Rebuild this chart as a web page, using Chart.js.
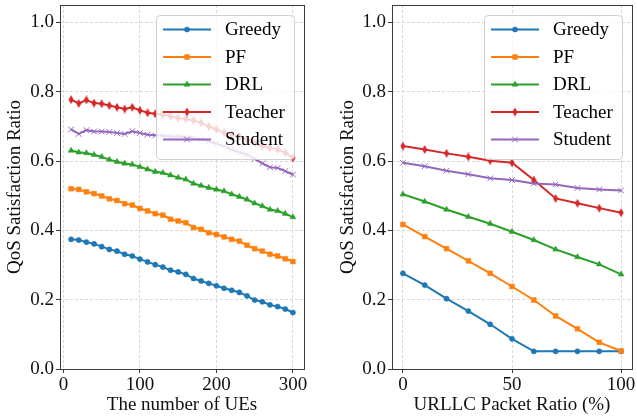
<!DOCTYPE html>
<html>
<head>
<meta charset="utf-8">
<script src="https://cdn.jsdelivr.net/npm/chart.js@4.4.0/dist/chart.umd.min.js"></script>
<style>
  html, body { margin: 0; padding: 0; background: #fff; }
  #wrap { position: relative; width: 637px; height: 419px; }
  canvas { position: absolute; top: 0; }
</style>
</head>
<body>
<div id="wrap">
  <canvas id="left" width="318" height="419" style="left:0"></canvas>
  <canvas id="right" width="319" height="419" style="left:318px"></canvas>
</div>
<script>
// series names
var methods = ['Greedy', 'PF', 'DRL', 'Teacher', 'Student'];

// left panel: number of UEs
var ueCounts = [10, 20, 30, 40, 50, 60, 70, 80, 90, 100, 110, 120, 130, 140, 150,
                160, 170, 180, 190, 200, 210, 220, 230, 240, 250, 260, 270, 280, 290, 300];
var ueGreedy = [0.374, 0.372, 0.366, 0.361, 0.353, 0.345, 0.340, 0.331, 0.326, 0.317,
                0.309, 0.301, 0.294, 0.285, 0.280, 0.273, 0.261, 0.254, 0.247, 0.240,
                0.233, 0.227, 0.221, 0.211, 0.199, 0.194, 0.185, 0.180, 0.173, 0.163];
var uePF = [0.520, 0.518, 0.511, 0.506, 0.499, 0.491, 0.486, 0.477, 0.473, 0.463,
            0.456, 0.448, 0.444, 0.432, 0.427, 0.422, 0.408, 0.403, 0.393, 0.388,
            0.381, 0.374, 0.369, 0.357, 0.347, 0.340, 0.331, 0.326, 0.318, 0.310];
var ueDRL = [0.630, 0.625, 0.623, 0.618, 0.612, 0.604, 0.598, 0.593, 0.590, 0.583,
             0.576, 0.569, 0.566, 0.559, 0.552, 0.547, 0.535, 0.529, 0.523, 0.518,
             0.513, 0.504, 0.497, 0.489, 0.478, 0.470, 0.460, 0.456, 0.448, 0.438];
var ueTeacher = [0.777, 0.766, 0.776, 0.767, 0.765, 0.760, 0.755, 0.750, 0.755, 0.746,
                 0.739, 0.736, 0.734, 0.729, 0.724, 0.721, 0.717, 0.710, 0.700, 0.691,
                 0.682, 0.676, 0.671, 0.662, 0.652, 0.643, 0.638, 0.633, 0.624, 0.609];
var ueStudent = [0.691, 0.678, 0.689, 0.685, 0.685, 0.684, 0.681, 0.678, 0.686, 0.681,
                 0.676, 0.674, 0.673, 0.671, 0.671, 0.669, 0.666, 0.662, 0.657, 0.650,
                 0.643, 0.633, 0.625, 0.619, 0.606, 0.593, 0.582, 0.580, 0.571, 0.561];

// right panel: URLLC packet ratio (%)
var urllcRatios = [0, 10, 20, 30, 40, 50, 60, 70, 80, 90, 100];
var urGreedy = [0.276, 0.242, 0.203, 0.167, 0.129, 0.087, 0.051, 0.051, 0.051, 0.051, 0.051];
var urPF = [0.417, 0.382, 0.347, 0.312, 0.276, 0.238, 0.199, 0.153, 0.116, 0.077, 0.052];
var urDRL = [0.504, 0.483, 0.460, 0.439, 0.419, 0.396, 0.372, 0.345, 0.323, 0.302, 0.273];
var urTeacher = [0.643, 0.633, 0.622, 0.612, 0.601, 0.595, 0.545, 0.492, 0.478, 0.464, 0.451];
var urStudent = [0.595, 0.585, 0.572, 0.562, 0.550, 0.545, 0.535, 0.532, 0.522, 0.518, 0.515];

// tick labels
var ueTicks = [0, 100, 200, 300];
var urllcTicks = [0, 50, 100];
var ratioTicks = [0, 0.2, 0.4, 0.6, 0.8, 1.0];

var FONT = "'Liberation Serif', 'DejaVu Serif', serif";
var colors = ['#1f77b4', '#ff7f0e', '#2ca02c', '#d62728', '#9467bd'];

function thinDiamond(color) {
    var c = document.createElement('canvas');
    c.width = 6;
    c.height = 9;
    var g = c.getContext('2d');
    g.fillStyle = color;
    g.beginPath();
    g.moveTo(3, 0);
    g.lineTo(5.6, 4.5);
    g.lineTo(3, 9);
    g.lineTo(0.4, 4.5);
    g.closePath();
    g.fill();
    return c;
}

var markers = [
    { style: 'circle', radius: 2.6, border: 0.5 },
    { style: 'rect', radius: 3.4, border: 0.5 },
    { style: 'triangle', radius: 3.4, border: 0.5 },
    { style: thinDiamond(colors[3]), radius: 4, border: 0 },
    { style: 'crossRot', radius: 4, border: 1 }
];

function makeDatasets(series) {
    return series.map(function (values, i) {
        return {
            label: methods[i],
            data: values,
            borderColor: colors[i],
            backgroundColor: colors[i],
            borderWidth: 2,
            tension: 0,
            pointStyle: markers[i].style,
            pointRadius: markers[i].radius,
            pointBorderWidth: markers[i].border,
            pointBackgroundColor: colors[i],
            pointBorderColor: colors[i],
            order: 5 - i
        };
    });
}

// matplotlib style legend box + axes frame
var framePlugin = {
    id: 'frameAndLegend',
    afterDatasetsDraw: function (chart) {
        var ctx = chart.ctx;
        var a = chart.chartArea;
        var w = 138, h = 144;
        var bx = a.right - 10 - w, by = a.top + 10;
        ctx.save();
        ctx.beginPath();
        ctx.roundRect(bx + 0.5, by + 0.5, w, h, 4);
        ctx.fillStyle = 'rgba(255,255,255,0.8)';
        ctx.fill();
        ctx.strokeStyle = 'rgba(204,204,204,0.9)';
        ctx.lineWidth = 1;
        ctx.stroke();

        chart.data.datasets.forEach(function (ds, i) {
            var y = by + 14.5 + i * 27.5;
            ctx.strokeStyle = ds.borderColor;
            ctx.lineWidth = 2;
            ctx.beginPath();
            ctx.moveTo(bx + 7, y);
            ctx.lineTo(bx + 55, y);
            ctx.stroke();
            ctx.fillStyle = ds.pointBackgroundColor;
            ctx.strokeStyle = ds.pointBorderColor;
            ctx.lineWidth = ds.pointBorderWidth;
            Chart.helpers.drawPoint(ctx, {
                pointStyle: ds.pointStyle,
                radius: ds.pointRadius,
                borderWidth: ds.pointBorderWidth,
                rotation: 0
            }, bx + 31, y);
            ctx.fillStyle = '#000';
            ctx.font = '19px ' + FONT;
            ctx.textBaseline = 'middle';
            ctx.textAlign = 'left';
            ctx.fillText(ds.label, bx + 69, y + 1);
        });
        ctx.restore();
    },
    afterDraw: function (chart) {
        var ctx = chart.ctx;
        var a = chart.chartArea;
        ctx.save();
        ctx.strokeStyle = '#3a3a3a';
        ctx.lineWidth = 1;
        ctx.strokeRect(Math.round(a.left) + 0.5, Math.round(a.top) + 0.5,
                       Math.round(a.right - a.left), Math.round(a.bottom - a.top));
        ctx.restore();
    }
};

function makeChart(id, xs, series, xTicks, xMin, xMax, xTitle, yWidth, yTitlePad) {
    var ctx = document.getElementById(id).getContext('2d');
    return new Chart(ctx, {
        type: 'line',
        data: {
            labels: xs,
            datasets: makeDatasets(series)
        },
        options: {
            responsive: false,
            animation: false,
            devicePixelRatio: 1,
            layout: { padding: { top: 5, right: id === 'left' ? 14 : 1, bottom: 0, left: 0 } },
            plugins: {
                legend: { display: false },
                tooltip: { enabled: false }
            },
            scales: {
                x: {
                    type: 'linear',
                    min: xMin,
                    max: xMax,
                    afterBuildTicks: function (scale) {
                        scale.ticks = xTicks.map(function (v) { return { value: v }; });
                    },
                    afterFit: function (scale) {
                        scale.height = 50;
                        scale.paddingLeft = 0;
                        scale.paddingRight = 0;
                    },
                    ticks: {
                        autoSkip: false,
                        maxRotation: 0,
                        padding: 1,
                        color: '#111',
                        font: { family: FONT, size: 19 },
                        callback: function (v) { return String(v); }
                    },
                    grid: {
                        color: '#d8d8d8',
                        tickColor: '#3a3a3a',
                        tickLength: 4,
                        tickWidth: 1
                    },
                    border: { display: false, dash: [3, 2] },
                    title: {
                        display: true,
                        text: xTitle,
                        color: '#111',
                        font: { family: FONT, size: 19 },
                        padding: { top: 0, bottom: 3 }
                    }
                },
                y: {
                    min: 0,
                    max: 1.05,
                    afterBuildTicks: function (scale) {
                        scale.ticks = ratioTicks.map(function (v) { return { value: v }; });
                    },
                    afterFit: function (scale) {
                        scale.width = yWidth;
                        scale.paddingTop = 0;
                        scale.paddingBottom = 0;
                    },
                    ticks: {
                        autoSkip: false,
                        padding: 2,
                        color: '#111',
                        font: { family: FONT, size: 19 },
                        callback: function (v) { return v.toFixed(1); }
                    },
                    grid: {
                        color: '#d8d8d8',
                        tickColor: '#3a3a3a',
                        tickLength: 4,
                        tickWidth: 1
                    },
                    border: { display: false, dash: [3, 2] },
                    title: {
                        display: true,
                        text: 'QoS Satisfaction Ratio',
                        color: '#111',
                        font: { family: FONT, size: 19 },
                        padding: { top: yTitlePad, bottom: 0 }
                    }
                }
            }
        },
        plugins: [framePlugin]
    });
}

makeChart('left', ueCounts, [ueGreedy, uePF, ueDRL, ueTeacher, ueStudent],
          ueTicks, -4.5, 314.5, 'The number of UEs', 60, 4);
makeChart('right', urllcRatios, [urGreedy, urPF, urDRL, urTeacher, urStudent],
          urllcTicks, -5, 105, 'URLLC Packet Ratio (%)', 74, 19);
</script>
</body>
</html>
